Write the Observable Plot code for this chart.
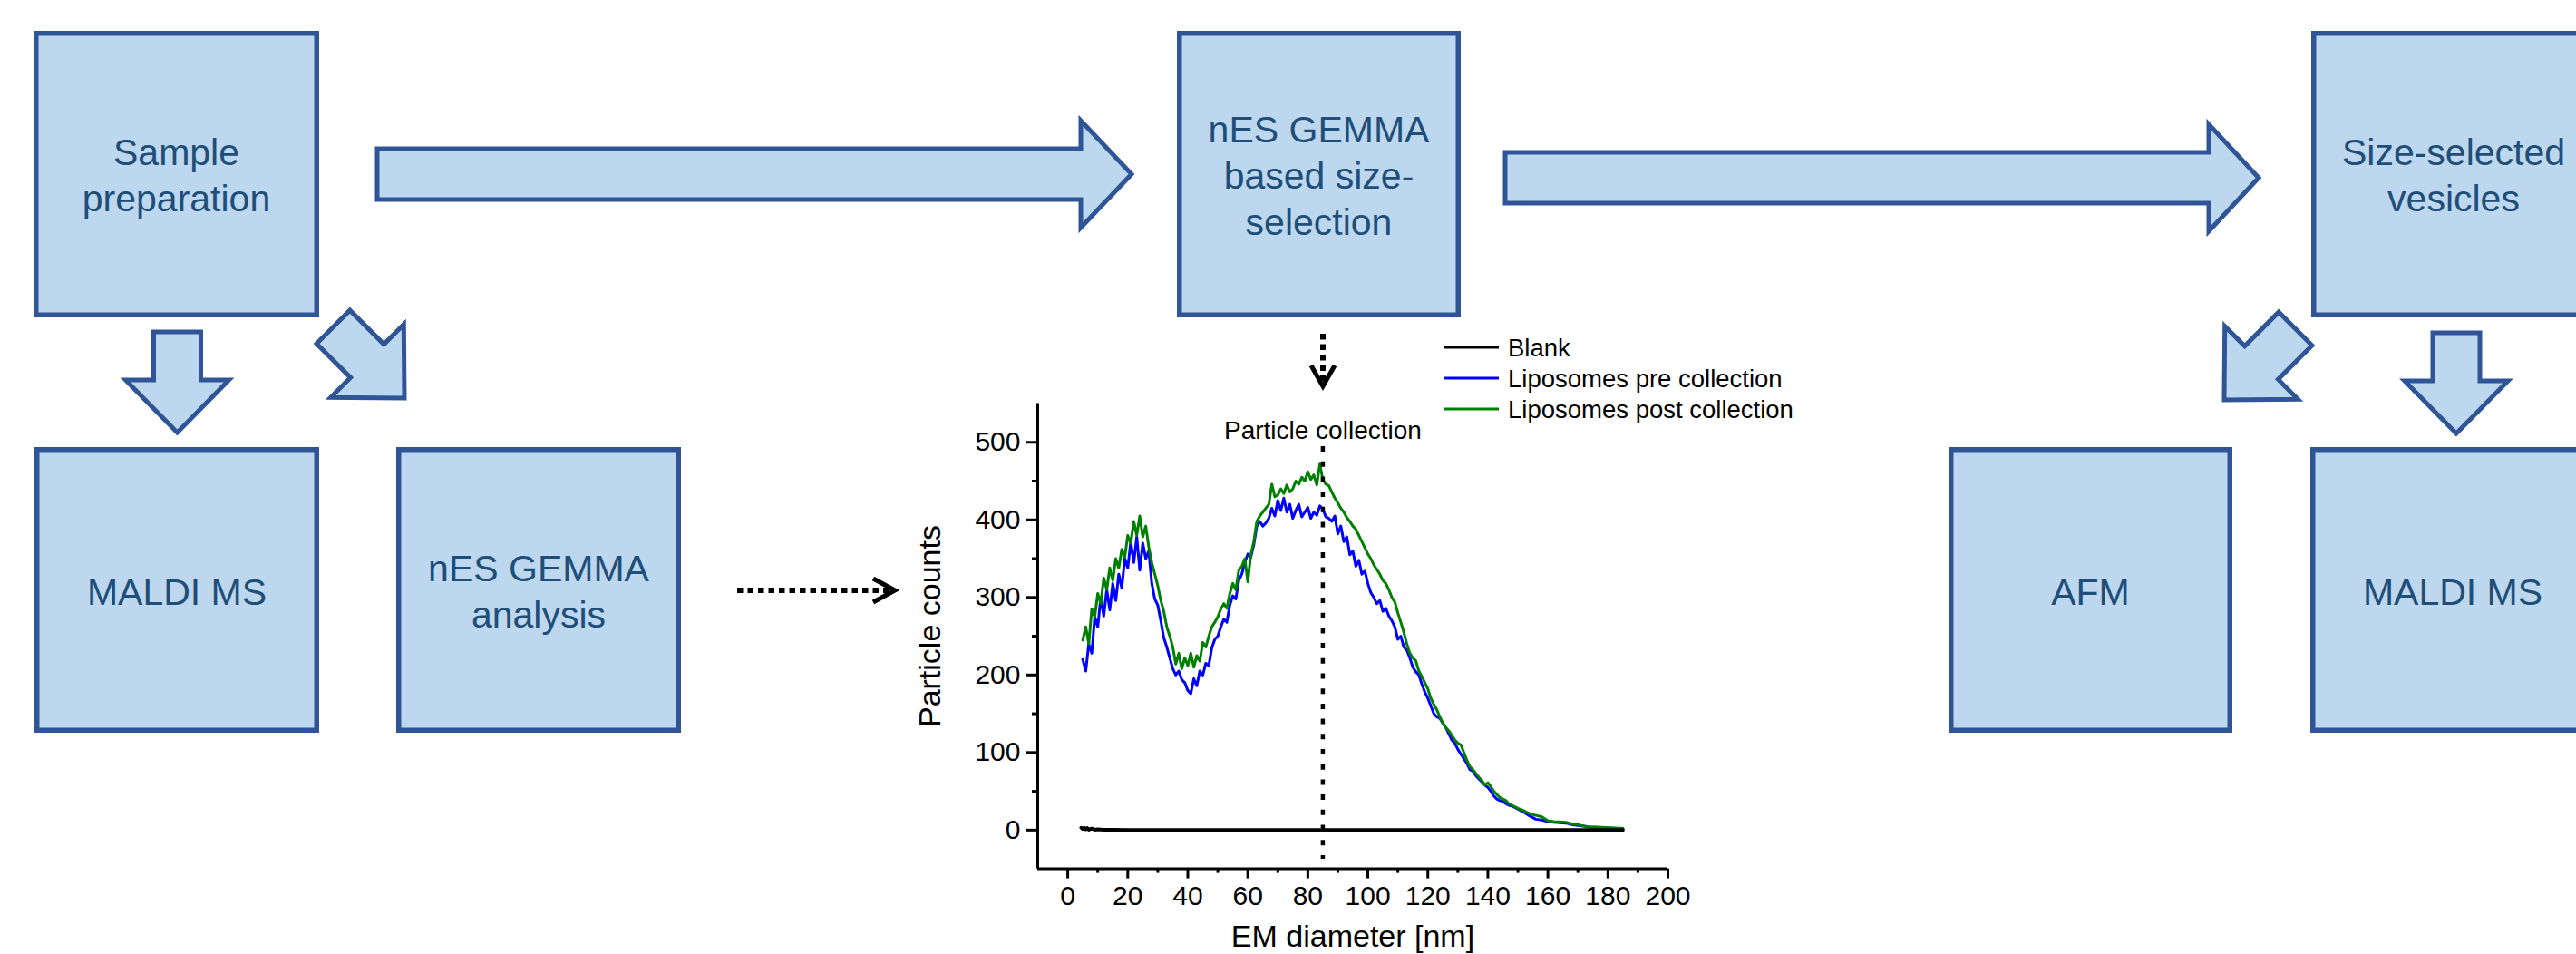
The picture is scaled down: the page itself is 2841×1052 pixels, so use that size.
<!DOCTYPE html>
<html>
<head>
<meta charset="utf-8">
<script src="https://cdn.jsdelivr.net/npm/d3@7"></script>
<script src="https://cdn.jsdelivr.net/npm/@observablehq/plot@0.6"></script>
<style>
  html, body { margin: 0; padding: 0; background: #ffffff; }
  #page { position: relative; width: 2841px; height: 1052px; overflow: hidden; font-family: "Liberation Sans", Arial, sans-serif; }
  #diagram { position: absolute; left: 0; top: 0; }
  #chart { position: absolute; left: 980px; top: 400px; }
</style>
</head>
<body>
<div id="page">
  <svg id="diagram" width="2841" height="1052"></svg>
  <div id="chart"></div>
</div>
<script>
// ---------------- DATA ----------------
const seriesNames = ["Blank", "Liposomes pre collection", "Liposomes post collection"];
const seriesColors = ["#000000", "#0000ff", "#008000"];

const diameterNm = [
  5,6,7,8,9,10,11,12,13,14,15,16,17,18,19,20,21,22,23,24,25,26,27,28,29,30,
  31,32,33,34,35,36,37,38,39,40,41,42,43,44,45,46,47,48,49,50,51,52,53,54,55,
  56,57,58,59,60,61,62,63,64,65,66,67,68,69,70,71,72,73,74,75,76,77,78,79,80,
  81,82,83,84,85,86,87,88,89,90,91,92,93,94,95,96,97,98,99,100,101,102,103,104,105,
  106,107,108,109,110,111,112,113,114,115,116,117,118,119,120,121,122,123,124,125,
  126,127,128,129,130,131,132,133,134,135,136,137,138,139,140,141,142,143,144,145,
  146,147,148,149,150,152,154,156,158,160,162,164,166,168,170,172,174,176,178,180,182,184,185
];

const preCounts = [
  220,205,240,228,275,262,300,276,310,284,318,296,330,312,350,338,372,345,378,335,370,350,360,318,298,290,
  270,248,236,222,208,200,205,194,190,180,176,195,186,205,200,215,212,235,246,250,262,272,268,290,302,
  298,322,330,345,356,352,368,392,398,392,396,402,415,405,425,412,428,410,420,402,412,420,404,410,416,
  402,410,406,418,414,404,402,398,405,382,392,372,378,355,360,340,348,330,334,318,306,300,292,296,282,
  286,276,270,262,246,250,236,232,222,210,204,200,188,178,170,160,150,146,144,138,
  132,124,116,112,104,98,92,86,78,76,70,66,62,58,55,50,44,40,38,37,
  34,32,31,29,27,23,18,14,13,11,10,9.5,9,7,6,5,4,3.5,3,3,2.5,2,2
];

const postCounts = [
  245,262,240,285,275,305,292,325,310,338,322,350,338,362,352,380,370,398,380,405,378,392,365,345,330,315,
  296,282,262,250,236,214,228,208,222,212,228,210,225,218,242,236,250,262,268,275,285,292,286,305,318,
  310,335,340,350,320,355,372,398,405,410,415,420,446,430,432,440,434,445,436,440,450,446,455,450,462,
  452,458,445,472,452,446,444,436,428,422,415,410,403,398,392,388,380,372,364,356,350,342,336,330,322,
  318,310,300,294,280,268,255,240,228,222,218,205,198,190,182,170,162,155,146,138,
  132,128,122,116,112,110,100,90,82,78,73,68,64,58,61,56,50,46,42,40,
  38,34,32,30,28,25,21,19,17,12,11,10.5,10,8,7,5,4,3.8,3.5,3,2.8,2.5,2.5
];

const blankDiameterNm = [4.5,5,5.5,6,6.5,7,8,9,10,12,15,20,30,40,50,60,70,80,90,100,110,120,130,140,150,160,170,185];
const blankCounts     = [3,1.5,3,1,2.5,0.5,2,0.5,1,0.3,0.5,0.2,0.1,0,0,0,0,0,0,0,0,0,0,0,0,0,0,0];

const collectionDiameter = 85;
const collectionLabel = "Particle collection";

const xDomain = [-10, 200];
const yDomain = [-50, 550];
const xMajorTicks = [0,20,40,60,80,100,120,140,160,180,200];
const xMinorTicks = [10,30,50,70,90,110,130,150,170,190];
const yMajorTicks = [0,100,200,300,400,500];
const yMinorTicks = [50,150,250,350,450];
const xLabel = "EM diameter [nm]";
const yLabel = "Particle counts";

// ---------------- FLOW DIAGRAM (layout) ----------------
const boxFill = "#bdd7ee", boxStroke = "#2f5597", boxTextColor = "#1f4e79";
const boxes = [
  {x0: 37,   x1: 352,  y0: 34,  y1: 350, lines: ["Sample", "preparation"], base: 182},
  {x0: 1298, x1: 1611, y0: 34,  y1: 350, lines: ["nES GEMMA", "based size-", "selection"], base: 157},
  {x0: 2549, x1: 2863, y0: 34,  y1: 350, lines: ["Size-selected", "vesicles"], base: 182},
  {x0: 38,   x1: 352,  y0: 493, y1: 808, lines: ["MALDI MS"], base: 667},
  {x0: 437,  x1: 751,  y0: 493, y1: 808, lines: ["nES GEMMA", "analysis"], base: 641},
  {x0: 2149, x1: 2462, y0: 493, y1: 808, lines: ["AFM"], base: 667},
  {x0: 2548, x1: 2862, y0: 493, y1: 808, lines: ["MALDI MS"], base: 667}
];
const r2 = Math.SQRT1_2;
const blockArrows = [
  {tip: [1248, 192], dir: [1, 0], hl: 56, hw: 59, sl: 776, sw: 28},
  {tip: [2491, 196], dir: [1, 0], hl: 55, hw: 59, sl: 776, sw: 28},
  {tip: [195.5, 477], dir: [0, 1], hl: 58, hw: 57, sl: 53, sw: 26},
  {tip: [2709, 478], dir: [0, 1], hl: 58, hw: 57, sl: 53, sw: 26},
  {tip: [446, 439], dir: [r2, r2], hl: 58, hw: 57, sl: 53, sw: 26},
  {tip: [2453, 441], dir: [-r2, r2], hl: 58, hw: 57, sl: 53, sw: 26}
];

const svg = d3.select("#diagram");
const strokeW = 5.5;

svg.selectAll("rect.box").data(boxes).join("rect")
  .attr("class", "box")
  .attr("x", d => d.x0 + strokeW / 2)
  .attr("y", d => d.y0 + strokeW / 2)
  .attr("width", d => d.x1 - d.x0 - strokeW)
  .attr("height", d => d.y1 - d.y0 - strokeW)
  .attr("fill", boxFill)
  .attr("stroke", boxStroke)
  .attr("stroke-width", strokeW);

boxes.forEach(b => {
  b.lines.forEach((t, i) => {
    svg.append("text")
      .attr("x", (b.x0 + b.x1) / 2)
      .attr("y", b.base + i * 51)
      .attr("text-anchor", "middle")
      .attr("font-family", '"Liberation Sans", Arial, sans-serif')
      .attr("font-size", 41)
      .attr("fill", boxTextColor)
      .text(t);
  });
});

function arrowPoints(a) {
  const [dx, dy] = a.dir; const px = -dy, py = dx;
  const pt = (u, v) => [a.tip[0] + u * px + v * dx, a.tip[1] + u * py + v * dy];
  return [pt(0, 0), pt(a.hw, -a.hl), pt(a.sw, -a.hl), pt(a.sw, -a.hl - a.sl),
          pt(-a.sw, -a.hl - a.sl), pt(-a.sw, -a.hl), pt(-a.hw, -a.hl)];
}
svg.selectAll("polygon.arrow").data(blockArrows).join("polygon")
  .attr("class", "arrow")
  .attr("points", d => arrowPoints(d).map(p => p.join(",")).join(" "))
  .attr("fill", boxFill)
  .attr("stroke", boxStroke)
  .attr("stroke-width", 5)
  .attr("stroke-linejoin", "miter");

// dotted arrows
const dotted = [
  {from: [1459, 368], to: [1459, 420], head: [[1446, 403], [1459, 426], [1472, 403]]},
  {from: [813, 651], to: [982, 651], head: [[963, 638], [987, 651], [963, 664]]}
];
dotted.forEach(d => {
  svg.append("line")
    .attr("x1", d.from[0]).attr("y1", d.from[1]).attr("x2", d.to[0]).attr("y2", d.to[1])
    .attr("stroke", "#000").attr("stroke-width", 6).attr("stroke-dasharray", "6.5,5");
  svg.append("polyline")
    .attr("points", d.head.map(p => p.join(",")).join(" "))
    .attr("fill", "none").attr("stroke", "#000").attr("stroke-width", 5)
    .attr("stroke-linejoin", "miter");
});

// legend
const legendX = 1592, legendY = 383, legendStep = 34;
seriesNames.forEach((name, i) => {
  const y = legendY + i * legendStep;
  svg.append("line").attr("x1", legendX).attr("x2", legendX + 61).attr("y1", y).attr("y2", y)
    .attr("stroke", seriesColors[i]).attr("stroke-width", 3);
  svg.append("text").attr("x", legendX + 71).attr("y", y + 10)
    .attr("font-family", '"Liberation Sans", Arial, sans-serif')
    .attr("font-size", 27.5).attr("fill", "#000").text(name);
});

// ---------------- CHART ----------------
const preRows = diameterNm.map((x, i) => ({x, y: preCounts[i]}));
const postRows = diameterNm.map((x, i) => ({x, y: postCounts[i]}));
const blankRows = blankDiameterNm.map((x, i) => ({x, y: blankCounts[i]}));

const chart = Plot.plot({
  width: 900,
  height: 652,
  marginLeft: 164,
  marginRight: 41,
  marginTop: 44.5,
  marginBottom: 94.4,
  style: {background: "transparent", fontFamily: '"Liberation Sans", Arial, sans-serif', color: "black", overflow: "hidden"},
  x: {domain: xDomain},
  y: {domain: yDomain},
  marks: [
    Plot.lineY(preRows, {x: "x", y: "y", stroke: seriesColors[1], strokeWidth: 3}),
    Plot.lineY(postRows, {x: "x", y: "y", stroke: seriesColors[2], strokeWidth: 3}),
    Plot.lineY(blankRows, {x: "x", y: "y", stroke: seriesColors[0], strokeWidth: 4}),
    Plot.ruleX([xDomain[0]], {stroke: "black", strokeWidth: 3}),
    Plot.ruleY([yDomain[0]], {stroke: "black", strokeWidth: 3}),
    Plot.axisY({ticks: yMajorTicks, tickSize: 12, tickPadding: 7, strokeWidth: 3, fontSize: 30, label: null}),
    Plot.axisY({ticks: yMinorTicks, tickSize: 6, strokeWidth: 3, tickFormat: () => "", label: null}),
    Plot.axisX({ticks: xMajorTicks, tickSize: 11, tickPadding: 8, strokeWidth: 3, fontSize: 30, label: null}),
    Plot.axisX({ticks: xMinorTicks, tickSize: 5, strokeWidth: 3, tickFormat: () => "", label: null}),
    Plot.ruleX([collectionDiameter], {stroke: "black", strokeWidth: 4.5, strokeDasharray: "6,10.7", insetTop: 47.5, insetBottom: 10.6}),
    Plot.text([{x: collectionDiameter, label: collectionLabel}], {x: "x", text: "label", frameAnchor: "top", dy: 38.5, lineAnchor: "bottom", fontSize: 28, fill: "black"}),
    Plot.text([yLabel], {text: d => d, frameAnchor: "left", rotate: -90, dx: -118, dy: -11, fontSize: 34, textAnchor: "middle", lineAnchor: "middle", fill: "black"}),
    Plot.text([xLabel], {text: d => d, frameAnchor: "bottom", dy: 86, lineAnchor: "bottom", fontSize: 34, textAnchor: "middle", fill: "black"})
  ]
});
document.getElementById("chart").appendChild(chart);
</script>
</body>
</html>
